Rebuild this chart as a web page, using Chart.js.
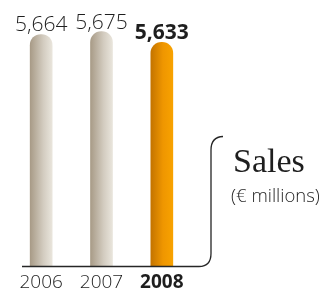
<!DOCTYPE html>
<html>
<head>
<meta charset="utf-8">
<script src="https://cdn.jsdelivr.net/npm/chart.js@4"></script>
<style>
html,body{margin:0;padding:0;background:#fff;}
#wrap{position:relative;width:329px;height:299px;}
</style>
</head>
<body>
<div id="wrap"><canvas id="c" width="329" height="299"></canvas></div>
<script>
const categories = ['2006', '2007', '2008'];
const sales = [5664, 5675, 5633];
const valueLabels = ['5,664', '5,675', '5,633'];
const highlightIndex = 2;
const titleText = 'Sales';
const unitText = '(\u20AC millions)';

const BAR_W = 22;
const TEXT = '#1e1e1e';

function barFill(ctx) {
  const chart = ctx.chart;
  const xs = chart.scales && chart.scales.x;
  const hi = ctx.dataIndex === highlightIndex;
  if (!xs || !chart.chartArea) return hi ? '#ef9400' : '#cfc6b8';
  const cx = xs.getPixelForValue(ctx.dataIndex);
  const g = chart.ctx.createLinearGradient(cx - BAR_W / 2, 0, cx + BAR_W / 2, 0);
  if (hi) {
    g.addColorStop(0, '#c47400');
    g.addColorStop(0.55, '#ef9600');
    g.addColorStop(1, '#f8a200');
  } else {
    g.addColorStop(0, '#a89b87');
    g.addColorStop(0.6, '#d3ccc0');
    g.addColorStop(1, '#e9e5dc');
  }
  return g;
}

const decor = {
  id: 'decor',
  afterDatasetsDraw(chart) {
    const c = chart.ctx;
    const area = chart.chartArea;
    const meta = chart.getDatasetMeta(0);
    c.save();
    c.fillStyle = TEXT;
    c.textAlign = 'center';
    c.textBaseline = 'alphabetic';
    meta.data.forEach((bar, i) => {
      c.font = (i === highlightIndex ? 'bold ' : '300 ') + '21px "Open Sans"';
      c.fillText(valueLabels[i], bar.x, bar.y - 3);
    });
    const y0 = Math.round(area.bottom) + 0.5;
    const bx = 211;
    c.strokeStyle = '#262626';
    c.lineWidth = 1.3;
    c.beginPath();
    c.moveTo(22, y0);
    c.lineTo(bx - 12, y0);
    c.quadraticCurveTo(bx, y0, bx, y0 - 13);
    c.lineTo(bx, 150);
    c.quadraticCurveTo(bx, 137, bx + 12, 136.5);
    c.stroke();
    c.textAlign = 'left';
    c.font = '34px "Liberation Serif"';
    c.fillText(titleText, 233, 172);
    c.font = '300 18.5px "Open Sans"';
    c.fillText(unitText, 231, 202);
    c.restore();
  }
};

new Chart(document.getElementById('c'), {
  type: 'bar',
  data: {
    labels: categories,
    datasets: [{
      data: sales,
      backgroundColor: barFill,
      borderWidth: 0,
      borderRadius: 11,
      borderSkipped: 'start',
      barThickness: BAR_W
    }]
  },
  options: {
    responsive: false,
    animation: false,
    events: [],
    layout: { padding: { left: 11, right: 137, top: 0, bottom: 0 } },
    plugins: { legend: { display: false }, tooltip: { enabled: false } },
    scales: {
      y: { display: false, min: 4750, max: 5800 },
      x: {
        grid: { display: false, drawTicks: false },
        border: { display: false },
        ticks: {
          color: TEXT,
          padding: 5,
          maxRotation: 0,
          font: (ctx) => ({ family: '"Open Sans"', size: 19, weight: ctx.index === highlightIndex ? 'bold' : '300' })
        }
      }
    }
  },
  plugins: [decor]
});
</script>
</body>
</html>
